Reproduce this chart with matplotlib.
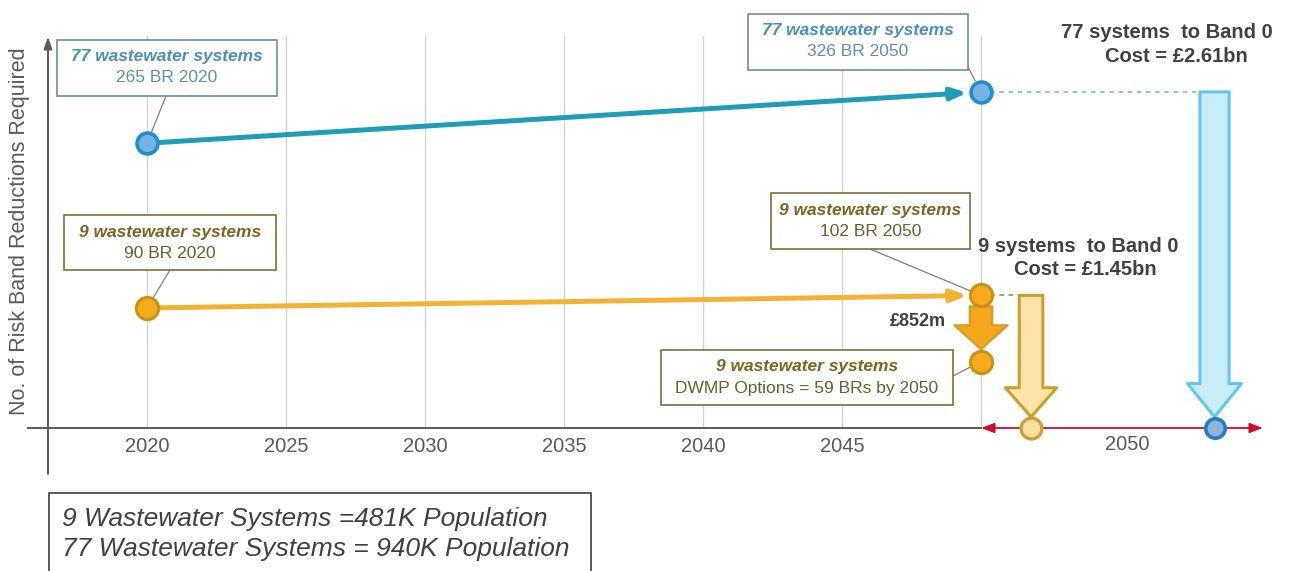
import numpy as np
import matplotlib.pyplot as plt
from matplotlib.patches import Rectangle

# Risk band reductions (BR) for the two groups of wastewater systems
line_years = [2020, 2050]
br_77 = [265, 326]
br_9 = [90, 102]
dwmp_br = 59                       # BRs delivered by DWMP options by 2050
remaining_9 = br_9[1] - dwmp_br    # what is left after the options
band0_x = [2051.8, 2058.4]         # where each group is taken to Band 0
band0_br = [0, 0]

tick_years = [2020, 2025, 2030, 2035, 2040, 2045]
grid_years = [2020, 2025, 2030, 2035, 2040, 2045, 2050]
tick_labels = ['2020', '2025', '2030', '2035', '2040', '2045']
span_label = '2050'

W, H = 1289, 571
FONT = 'Liberation Sans'

BLUE_LINE = '#1f9db5'
BLUE_FILL = '#74b3e3'
BLUE_EDGE = '#1d8fd0'
ORANGE_LINE = '#f2b233'
ORANGE_FILL = '#f6aa1c'
ORANGE_EDGE = '#c9901a'
GREY = '#595959'
DARK = '#404040'


def fwd(v):
    v = np.asarray(v, dtype=float)
    return np.sign(v) * np.abs(v) ** 0.8


def inv(t):
    t = np.asarray(t, dtype=float)
    return np.sign(t) * np.abs(t) ** 1.25


def fr(x, y):
    # pixel position -> axes fraction (axes cover the whole figure)
    return x / W, 1 - y / H


def year_at(px):
    return 2020 + (px - 147) / 27.8


fig = plt.figure(figsize=(W / 100, H / 100), dpi=100)
ax = fig.add_axes([0, 0, 1, 1])
ax.set_xlim(year_at(0), year_at(W))
ax.set_yscale('function', functions=(fwd, inv))
ax.set_ylim(inv(-143 / 3.28), inv(428 / 3.28))
ax.axis('off')

# vertical grid lines
for yr in grid_years:
    ax.axvline(yr, ymin=143 / H, ymax=1 - 36 / H, color='#d4d4d4', lw=1, zorder=0)

# axes: y arrow and x baseline
ax.annotate('', xy=fr(48, 37), xytext=fr(48, 474), xycoords='axes fraction',
            arrowprops=dict(arrowstyle='-|>,head_length=0.7,head_width=0.25',
                            color=GREY, lw=1.4, shrinkA=0, shrinkB=0))
ax.plot([year_at(28), 2050], [0, 0], color=GREY, lw=1.4, zorder=1)
ax.annotate('', xy=(year_at(1263), 0), xytext=(2050, 0),
            arrowprops=dict(arrowstyle='<|-|>,head_length=0.8,head_width=0.3',
                            color='#c8102e', lw=1.3, shrinkA=0, shrinkB=0), zorder=2)

for yr, lab in zip(tick_years, tick_labels):
    ax.text(yr, inv(-19 / 3.28), lab, ha='center', va='center', fontsize=14.5,
            color=GREY, family=FONT)
ax.text(year_at(1127), inv(-16 / 3.28), span_label, ha='center', va='center',
        fontsize=14.5, color=GREY, family=FONT)

ax.text(*fr(20, 231), 'No. of Risk Band Reductions Required', transform=ax.transAxes,
        rotation=90, ha='center', va='center', fontsize=15.5, color=GREY, family=FONT)

# growth lines 2020 -> 2050
ax.annotate('', xy=(line_years[1], br_77[1]), xytext=(line_years[0], br_77[0]),
            arrowprops=dict(arrowstyle='-|>,head_length=0.9,head_width=0.35',
                            color=BLUE_LINE, lw=3.6, shrinkA=0, shrinkB=10), zorder=3)
ax.annotate('', xy=(line_years[1], br_9[1]), xytext=(line_years[0], br_9[0]),
            arrowprops=dict(arrowstyle='-|>,head_length=0.9,head_width=0.35',
                            color=ORANGE_LINE, lw=3.6, shrinkA=0, shrinkB=10), zorder=3)

# dashed carry-over to the Band 0 drops
ax.plot([line_years[1], band0_x[1]], [br_77[1], br_77[1]], ls=(0, (3, 3)),
        color='#63b7d9', lw=1.1, zorder=2)
ax.plot([line_years[1], band0_x[0]], [br_9[1], br_9[1]], ls=(0, (3, 3)),
        color='#8c8a3a', lw=1.1, zorder=2)

# big drop arrows
ax.annotate('', xy=(band0_x[1], band0_br[1]), xytext=(band0_x[1], br_77[1]),
            arrowprops=dict(arrowstyle='simple,head_length=2.4,head_width=3.9,tail_width=2.1',
                            mutation_scale=10, fc='#c8ecf9', ec='#66c6ea', lw=2.2,
                            shrinkA=0, shrinkB=8), zorder=3)
ax.annotate('', xy=(band0_x[0], band0_br[0]), xytext=(band0_x[0], br_9[1]),
            arrowprops=dict(arrowstyle='simple,head_length=2.1,head_width=3.7,tail_width=1.7',
                            mutation_scale=10, fc='#fde3a8', ec='#c9a02e', lw=2.2,
                            shrinkA=0, shrinkB=8), zorder=3)
ax.annotate('', xy=(line_years[1], remaining_9), xytext=(line_years[1], br_9[1]),
            arrowprops=dict(arrowstyle='simple,head_length=1.7,head_width=3.8,tail_width=1.6',
                            mutation_scale=10, fc='#f5a81c', ec='#d6a024', lw=1.8,
                            shrinkA=8, shrinkB=9), zorder=3)

# markers
ax.plot(line_years, br_77, 'o', ms=15, mfc=BLUE_FILL, mec=BLUE_EDGE, mew=2.6, zorder=6)
ax.plot(line_years, br_9, 'o', ms=16, mfc=ORANGE_FILL, mec=ORANGE_EDGE, mew=2.2, zorder=6)
ax.plot([line_years[1]], [remaining_9], 'o', ms=16, mfc=ORANGE_FILL, mec=ORANGE_EDGE,
        mew=2.2, zorder=6)
ax.plot([band0_x[0]], [band0_br[0]], 'o', ms=15, mfc='#fbe1a0', mec='#c8a03c', mew=2.4, zorder=6)
ax.plot([band0_x[1]], [band0_br[1]], 'o', ms=14, mfc='#8fb3d9', mec='#1f7fc4', mew=2.6, zorder=6)


def callout(x0, y0, x1, y1, title, sub, edge, tcol, scol, anchor, target):
    ax.add_patch(Rectangle(fr(x0, y1), (x1 - x0) / W, (y1 - y0) / H, transform=ax.transAxes,
                           fc='white', ec=edge, lw=1.2, zorder=4))
    cx = (x0 + x1) / 2
    ax.text(*fr(cx, y0 + 17), title, transform=ax.transAxes, ha='center', va='center',
            fontsize=12.5, fontweight='bold', fontstyle='italic', color=tcol,
            family=FONT, zorder=5)
    ax.text(*fr(cx, y0 + 38), sub, transform=ax.transAxes, ha='center', va='center',
            fontsize=12.5, color=scol, family=FONT, zorder=5)
    ax.annotate('', xy=target, xytext=fr(*anchor), textcoords='axes fraction',
                arrowprops=dict(arrowstyle='-', color='#7f7f7f', lw=0.9,
                                shrinkA=0, shrinkB=9), zorder=3)


callout(57, 40, 277, 96, '77 wastewater systems', f'{br_77[0]} BR {line_years[0]}',
        '#6f8b9c', '#4b8fba', '#5d8fb0', (166, 96), (line_years[0], br_77[0]))
callout(748, 14, 968, 70, '77 wastewater systems', f'{br_77[1]} BR {line_years[1]}',
        '#6f8b9c', '#4b8fba', '#5d8fb0', (958, 48), (line_years[1], br_77[1]))
callout(64, 215, 276, 270, '9 wastewater systems', f'{br_9[0]} BR {line_years[0]}',
        '#7d6d3a', '#7b6522', '#6b5d2f', (170, 270), (line_years[0], br_9[0]))
callout(771, 193, 970, 249, '9 wastewater systems', f'{br_9[1]} BR {line_years[1]}',
        '#7d6d3a', '#7b6522', '#6b5d2f', (870, 249), (line_years[1], br_9[1]))
callout(661, 350, 953, 405, '9 wastewater systems',
        f'DWMP Options = {dwmp_br} BRs by {line_years[1]}',
        '#7d6d3a', '#7b6522', '#6b5d2f', (953, 376), (line_years[1], remaining_9))

# cost annotations
for (x, y), s in [((1167, 32), '77 systems  to Band 0'), ((1176, 56), 'Cost = £2.61bn'),
                  ((1078, 246), '9 systems  to Band 0'), ((1085, 270), 'Cost = £1.45bn')]:
    ax.text(*fr(x, y), s, transform=ax.transAxes, ha='center', va='center',
            fontsize=14.5, fontweight='bold', color=DARK, family=FONT)
ax.text(*fr(946, 321), '£852m', transform=ax.transAxes, ha='right', va='center',
        fontsize=13, fontweight='bold', color=DARK, family=FONT)

# population note
ax.add_patch(Rectangle(fr(49, 575), (591 - 49) / W, (575 - 493) / H, transform=ax.transAxes,
                       fc='white', ec='#404040', lw=1.2, zorder=4))
ax.text(*fr(62, 519), '9 Wastewater Systems =481K Population', transform=ax.transAxes,
        ha='left', va='center', fontsize=19, fontstyle='italic', color=DARK,
        family=FONT, zorder=5)
ax.text(*fr(62, 549), '77 Wastewater Systems = 940K Population', transform=ax.transAxes,
        ha='left', va='center', fontsize=19, fontstyle='italic', color=DARK,
        family=FONT, zorder=5)

fig.savefig('out.png', dpi=100)
